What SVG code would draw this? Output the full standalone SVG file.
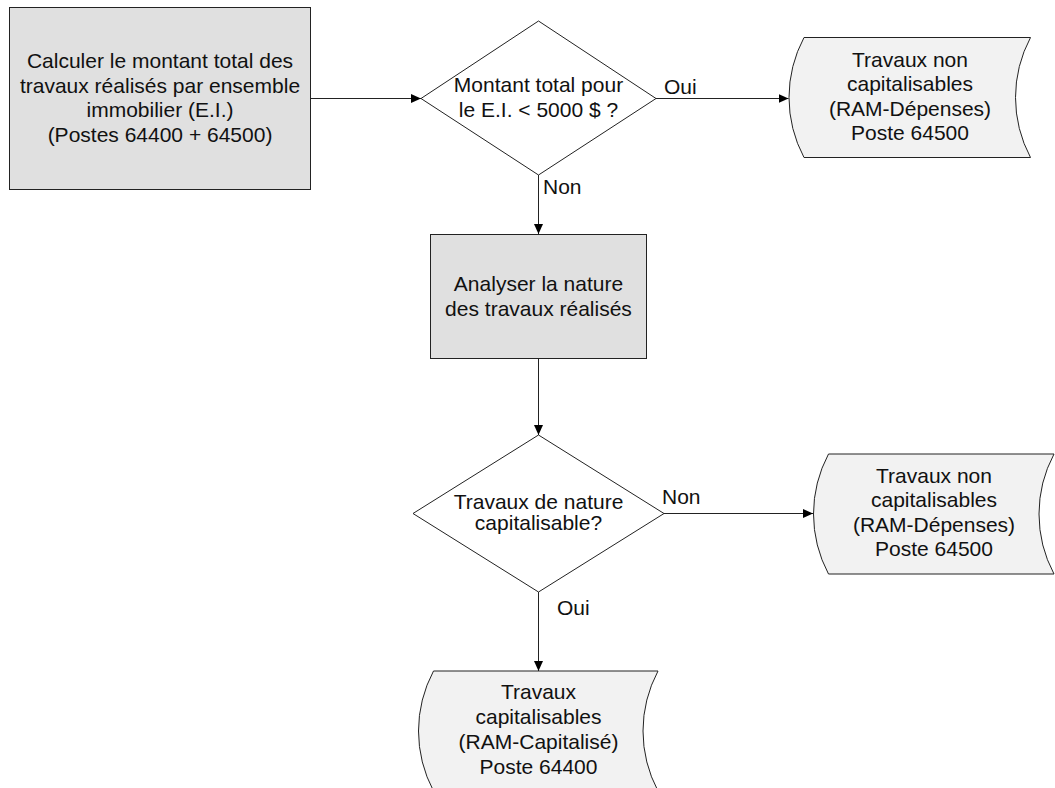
<svg xmlns="http://www.w3.org/2000/svg" width="1055" height="788" viewBox="0 0 1055 788">
<style>
.t{font-family:"Liberation Sans",Arial,sans-serif;font-size:21px;fill:#111;text-anchor:middle}
.lbl{font-family:"Liberation Sans",Arial,sans-serif;font-size:21px;fill:#111}
.proc{fill:#e0e0e0;stroke:#222;stroke-width:1}
.dec{fill:#fff;stroke:#222;stroke-width:1}
.card{fill:#f2f2f2;stroke:#222;stroke-width:1}
.con{fill:none;stroke:#222;stroke-width:1;marker-end:url(#ah)}
</style>
<defs>
<marker id="ah" markerWidth="10" markerHeight="10" refX="10" refY="5" orient="auto" markerUnits="userSpaceOnUse">
<path d="M0,0.5 L10,5 L0,9.5 Z" fill="#000"/>
</marker>
</defs>
<rect width="1055" height="788" fill="#fff"/>
<g id="connectors">
<line class="con" x1="311" y1="98.5" x2="421" y2="98.5"/>
<line class="con" x1="656" y1="98.5" x2="788.5" y2="98.5"/>
<line class="con" x1="538.5" y1="175" x2="538.5" y2="234"/>
<line class="con" x1="538.5" y1="359" x2="538.5" y2="435"/>
<line class="con" x1="664" y1="513.5" x2="813" y2="513.5"/>
<line class="con" x1="538.5" y1="592" x2="538.5" y2="671"/>
<text class="lbl" x="664" y="94">Oui</text>
<text class="lbl" x="543" y="194">Non</text>
<text class="lbl" x="662" y="504">Non</text>
<text class="lbl" x="557" y="615">Oui</text>
</g>
<g id="n1">
<rect class="proc" x="9.5" y="7.5" width="301" height="182"/>
<text class="t" x="160" y="68">Calculer le montant total des</text>
<text class="t" x="160" y="92.5">travaux réalisés par ensemble</text>
<text class="t" x="160" y="117">immobilier (E.I.)</text>
<text class="t" x="160" y="141.5">(Postes 64400 + 64500)</text>
</g>
<g id="n2">
<polygon class="dec" points="538.5,21 656,98.5 538.5,175 421,98.5"/>
<text class="t" x="538.5" y="92">Montant total pour</text>
<text class="t" x="538.5" y="116.5">le E.I. &lt; 5000 $ ?</text>
</g>
<g id="n3">
<path class="card" d="M804,37.5 L1030.5,37.5 A127.5,127.5 0 0 0 1030.5,157.5 L804,157.5 A127.5,127.5 0 0 1 804,37.5 Z"/>
<text class="t" x="910" y="66.5">Travaux non</text>
<text class="t" x="910" y="91">capitalisables</text>
<text class="t" x="910" y="115.5">(RAM-Dépenses)</text>
<text class="t" x="910" y="140">Poste 64500</text>
</g>
<g id="n4">
<rect class="proc" x="430.5" y="234.5" width="216" height="124"/>
<text class="t" x="538.5" y="290.5">Analyser la nature</text>
<text class="t" x="538.5" y="315.5">des travaux réalisés</text>
</g>
<g id="n5">
<polygon class="dec" points="538.5,435 664,513.5 538.5,592 413,513.5"/>
<text class="t" x="538.5" y="509">Travaux de nature</text>
<text class="t" x="538.5" y="530">capitalisable?</text>
</g>
<g id="n6">
<path class="card" d="M828.5,454 L1054,454 A127.5,127.5 0 0 0 1054,574 L828.5,574 A127.5,127.5 0 0 1 828.5,454 Z"/>
<text class="t" x="934" y="482.5">Travaux non</text>
<text class="t" x="934" y="507">capitalisables</text>
<text class="t" x="934" y="531.5">(RAM-Dépenses)</text>
<text class="t" x="934" y="556">Poste 64500</text>
</g>
<g id="n7">
<path class="card" d="M433.5,671 L658,671 A127.5,127.5 0 0 0 658,791 L433.5,791 A127.5,127.5 0 0 1 433.5,671 Z"/>
<text class="t" x="538.5" y="699">Travaux</text>
<text class="t" x="538.5" y="724">capitalisables</text>
<text class="t" x="538.5" y="749">(RAM-Capitalisé)</text>
<text class="t" x="538.5" y="774">Poste 64400</text>
</g>
</svg>
